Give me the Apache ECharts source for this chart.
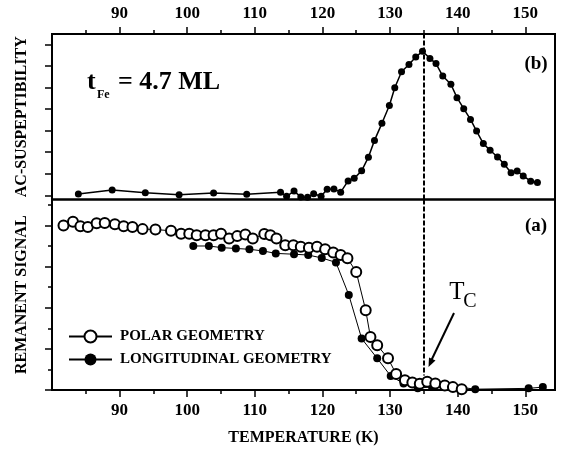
<!DOCTYPE html>
<html>
<head>
<meta charset="utf-8">
<script src="https://cdn.jsdelivr.net/npm/echarts@6/dist/echarts.min.js"></script>
<style>
  html, body { margin: 0; padding: 0; background: #fff; }
  #chart { width: 562px; height: 453px; }
</style>
</head>
<body>
<div id="chart"></div>
<script>
// (b) ac-susceptibility
const acTemp = [83.9, 88.9, 93.8, 98.8, 103.9, 108.8, 113.8, 114.7, 115.8, 116.8, 117.8, 118.7, 119.8, 120.7, 121.7, 122.7, 123.8, 124.7, 125.8, 126.8, 127.7, 128.8, 129.9, 130.7, 131.7, 132.8, 133.8, 134.8, 135.9, 136.8, 137.8, 139.0, 139.9, 140.9, 141.9, 142.8, 143.8, 144.8, 145.9, 146.9, 147.9, 148.8, 149.7, 150.8, 151.8];
const acVal = [0.06, 0.25, 0.12, 0.03, 0.11, 0.05, 0.15, -0.04, 0.2, -0.07, -0.09, 0.08, -0.04, 0.28, 0.3, 0.15, 0.67, 0.79, 1.14, 1.77, 2.55, 3.34, 4.17, 4.99, 5.73, 6.07, 6.41, 6.68, 6.35, 6.11, 5.53, 5.15, 4.53, 4.02, 3.52, 2.98, 2.4, 2.09, 1.78, 1.44, 1.05, 1.13, 0.9, 0.66, 0.6];

// (a) remanent signal
const polarTemp = [81.7, 83.1, 84.2, 85.3, 86.6, 87.8, 89.3, 90.6, 91.9, 93.4, 95.3, 97.6, 99.1, 100.3, 101.4, 102.7, 103.9, 105.0, 106.2, 107.4, 108.6, 109.7, 111.4, 112.3, 113.2, 114.5, 115.7, 116.8, 118.0, 119.2, 120.4, 121.6, 122.7, 123.7, 125.0, 126.4, 127.1, 128.1, 129.7, 130.9, 132.2, 133.3, 134.4, 135.5, 136.7, 138.1, 139.3, 140.6];
const polarVal = [4.0, 4.09, 3.98, 3.96, 4.05, 4.06, 4.03, 3.98, 3.96, 3.91, 3.9, 3.87, 3.8, 3.8, 3.76, 3.76, 3.76, 3.8, 3.68, 3.74, 3.78, 3.68, 3.79, 3.76, 3.68, 3.52, 3.52, 3.48, 3.46, 3.48, 3.42, 3.34, 3.28, 3.2, 2.87, 1.94, 1.29, 1.09, 0.77, 0.39, 0.24, 0.18, 0.15, 0.2, 0.16, 0.11, 0.07, 0.02];
const longTemp = [100.9, 103.2, 105.1, 107.2, 109.2, 111.2, 113.1, 115.8, 117.9, 119.9, 122.0, 123.9, 125.8, 128.1, 130.1, 132.0, 134.1, 136.2, 137.9, 142.6, 150.5, 152.6];
const longVal = [3.5, 3.5, 3.46, 3.44, 3.42, 3.38, 3.32, 3.3, 3.28, 3.21, 3.1, 2.31, 1.25, 0.77, 0.34, 0.16, 0.04, 0.08, 0.12, 0.02, 0.04, 0.07];

const majorT = [90, 100, 110, 120, 130, 140, 150];
const minorT = [85, 95, 105, 115, 125, 135, 145];
const acTicks = [0, 1, 2, 3, 4, 5, 6, 7];
const remMajor = [0, 1, 2, 3, 4];
const remMinor = [0.5, 1.5, 2.5, 3.5, 4.5];
const T_C = 135;

const serif = '"Liberation Serif", "Times New Roman", serif';
const pairs = (xs, ys) => xs.map((x, i) => [x, ys[i]]);

const chart = echarts.init(document.getElementById('chart'));

const topRect = { left: 52, top: 34, width: 503, height: 165.5 };
const botRect = { left: 52, top: 199.5, width: 503, height: 190.5 };
const noLine = { show: false, onZero: false };
const xBase = { type: 'value', min: 80, max: 154.4, splitLine: { show: false }, axisLine: noLine };
const yTop = { type: 'value', min: -0.19, max: 7.48, splitLine: { show: false }, axisLine: noLine };
const yBot = { type: 'value', min: 0, max: 4.63, splitLine: { show: false }, axisLine: noLine };
const tickLbl = { fontFamily: serif, fontWeight: 'bold', fontSize: 17, color: '#000', margin: 12 };
const nameStyle = { fontFamily: serif, fontWeight: 'bold', fontSize: 16, color: '#000' };
const tick = (len, vals) => ({ show: true, length: len, lineStyle: { color: '#000', width: 1.5 }, customValues: vals });

const option = {
  animation: false,
  backgroundColor: '#fff',
  grid: [
    { ...topRect, show: true, borderColor: '#000', borderWidth: 2 },
    { ...botRect, show: true, borderColor: '#000', borderWidth: 2 },
    // same boxes again, only to carry the short minor ticks
    { ...topRect },
    { ...botRect }
  ],
  xAxis: [
    { ...xBase, gridIndex: 0, position: 'top', axisTick: tick(7, majorT),
      axisLabel: { ...tickLbl, customValues: majorT } },
    { ...xBase, gridIndex: 1, position: 'bottom', axisTick: tick(7, majorT),
      name: 'TEMPERATURE (K)', nameLocation: 'middle', nameGap: 40, nameTextStyle: nameStyle,
      axisLabel: { ...tickLbl, customValues: majorT } },
    { ...xBase, gridIndex: 2, position: 'top', axisTick: tick(4, minorT), axisLabel: { show: false } },
    { ...xBase, gridIndex: 3, position: 'bottom', axisTick: tick(4, minorT), axisLabel: { show: false } }
  ],
  yAxis: [
    { ...yTop, gridIndex: 0, name: 'AC-SUSPEPTIBILITY', nameLocation: 'middle', nameGap: 22,
      nameTextStyle: nameStyle, axisTick: tick(7, acTicks), axisLabel: { show: false } },
    { ...yBot, gridIndex: 1, name: 'REMANENT SIGNAL', nameLocation: 'middle', nameGap: 22,
      nameTextStyle: nameStyle, axisTick: tick(7, remMajor), axisLabel: { show: false } },
    { ...yTop, gridIndex: 2, show: false },
    { ...yBot, gridIndex: 3, axisTick: tick(4, remMinor), axisLabel: { show: false } }
  ],
  legend: {
    orient: 'vertical', left: 63, top: 324, itemWidth: 43, itemHeight: 15, itemGap: 8,
    data: ['POLAR GEOMETRY', 'LONGITUDINAL GEOMETRY'],
    textStyle: { fontFamily: serif, fontWeight: 'bold', fontSize: 15, color: '#000', padding: [0, 0, 0, 3] }
  },
  series: [
    {
      name: 'AC', type: 'line', xAxisIndex: 0, yAxisIndex: 0,
      data: pairs(acTemp, acVal),
      symbol: 'circle', symbolSize: 7,
      itemStyle: { color: '#000' }, lineStyle: { color: '#000', width: 1.5 },
      markLine: {
        silent: true, symbol: 'none', label: { show: false },
        lineStyle: { color: '#000', width: 2, type: [5, 2] },
        data: [{ xAxis: T_C }]
      }
    },
    {
      name: 'LONGITUDINAL GEOMETRY', type: 'line', xAxisIndex: 1, yAxisIndex: 1,
      data: pairs(longTemp, longVal),
      symbol: 'circle', symbolSize: 8,
      itemStyle: { color: '#000' }, lineStyle: { color: '#000', width: 1 },
      markLine: {
        silent: true, symbol: 'none', label: { show: false },
        lineStyle: { color: '#000', width: 2, type: [5, 2] },
        data: [[{ coord: [T_C, 4.63] }, { coord: [T_C, 0.35] }]]
      }
    },
    {
      name: 'POLAR GEOMETRY', type: 'line', xAxisIndex: 1, yAxisIndex: 1,
      data: pairs(polarTemp, polarVal),
      symbol: 'emptyCircle', symbolSize: 10,
      itemStyle: { color: '#000', borderWidth: 2 }, lineStyle: { color: '#000', width: 1 }
    }
  ],
  graphic: [
    { type: 'text', x: 87, y: 82, style: { text: 't', font: 'bold 26px ' + serif, fill: '#000', textVerticalAlign: 'middle' } },
    { type: 'text', x: 97, y: 95, style: { text: 'Fe', font: 'bold 12px ' + serif, fill: '#000', textVerticalAlign: 'middle' } },
    { type: 'text', x: 118, y: 82, style: { text: '= 4.7 ML', font: 'bold 26px ' + serif, fill: '#000', textVerticalAlign: 'middle' } },
    { type: 'text', x: 536, y: 64, style: { text: '(b)', font: 'bold 19px ' + serif, fill: '#000', textAlign: 'center', textVerticalAlign: 'middle' } },
    { type: 'text', x: 536, y: 226, style: { text: '(a)', font: 'bold 19px ' + serif, fill: '#000', textAlign: 'center', textVerticalAlign: 'middle' } },
    { type: 'text', x: 457, y: 292, style: { text: 'T', font: '25px ' + serif, fill: '#000', textAlign: 'center', textVerticalAlign: 'middle' } },
    { type: 'text', x: 470, y: 302, style: { text: 'C', font: '20px ' + serif, fill: '#000', textAlign: 'center', textVerticalAlign: 'middle' } },
    { type: 'line', shape: { x1: 454, y1: 313, x2: 431, y2: 361 }, style: { stroke: '#000', lineWidth: 2 } },
    { type: 'polygon', shape: { points: [[428.5, 367], [435.5, 360.5], [429, 357.5]] }, style: { fill: '#000' } }
  ]
};

chart.setOption(option);
</script>
</body>
</html>
